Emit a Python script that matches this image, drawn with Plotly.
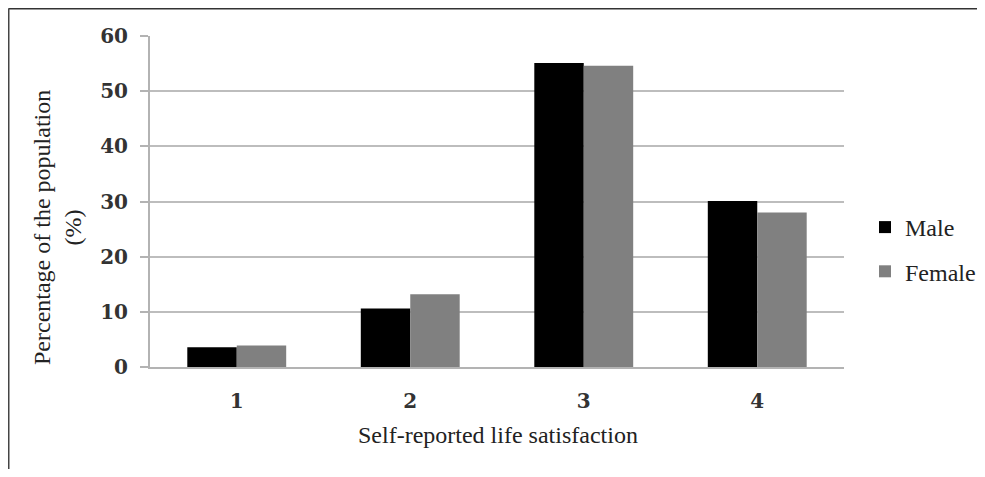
import plotly.graph_objects as go

categories = ["1", "2", "3", "4"]
male = [3.6, 10.6, 55.1, 30.1]
female = [3.9, 13.2, 54.6, 28.0]
y_ticks = [0, 10, 20, 30, 40, 50, 60]

# page body has an 8px margin; work in reference-pixel coordinates and shift
OFF = 8
W, H = 985 - OFF, 477 - 2 * OFF
L, R, T, B = 150, 844, 36, 367  # plot area in reference pixels

def px(x):
    return (x - L) / (R - L)

def py(y):
    return (B - y) / (B - T)

serif = "Liberation Serif, Times New Roman, serif"
tickfont = dict(family="DejaVu Serif", size=20, color="#333333", weight="bold")

fig = go.Figure()
fig.add_trace(go.Bar(name="Male", x=categories, y=male,
                     marker=dict(color="#000000", line=dict(width=0)), legendgroup="m"))
fig.add_trace(go.Bar(name="Female", x=categories, y=female,
                     marker=dict(color="#808080", line=dict(width=0)), legendgroup="f"))

fig.update_layout(
    width=W, height=H,
    margin=dict(l=L - OFF, r=W - (R - OFF), t=T - OFF, b=H - (B - OFF), pad=0, autoexpand=False),
    paper_bgcolor="white", plot_bgcolor="white",
    font=dict(family=serif, size=24, color="#222222"),
    barmode="group", bargap=0.43, bargroupgap=0,
    showlegend=True,
    legend=dict(x=px(865), y=py(205), xanchor="left", yanchor="top",
                font=dict(family=serif, size=24, color="#222222"),
                traceorder="grouped", tracegroupgap=10, bgcolor="rgba(0,0,0,0)"),
    xaxis=dict(showgrid=False, showline=True, linecolor="#b3b3b3", linewidth=2,
               ticks="", tickfont=tickfont, ticklabelstandoff=15, fixedrange=True),
    yaxis=dict(range=[0, 60], tickvals=y_ticks, showgrid=True, gridcolor="#bdbdbd", gridwidth=2,
               showline=True, linecolor="#b3b3b3", linewidth=2, ticks="outside", ticklen=8,
               tickcolor="#b3b3b3", tickwidth=2, tickfont=tickfont,
               ticklabelstandoff=8, zeroline=False),
    shapes=[
        dict(type="line", xref="paper", yref="paper", x0=px(8.5), x1=px(1000), y0=py(8.5), y1=py(8.5),
             line=dict(color="#333333", width=2)),
        dict(type="line", xref="paper", yref="paper", x0=px(8.5), x1=px(8.5), y0=py(8.5), y1=py(490),
             line=dict(color="#444444", width=2)),
    ],
    annotations=[
        dict(text="Self-reported life satisfaction", xref="paper", yref="paper",
             x=px(498), y=py(435), xanchor="center", yanchor="middle", showarrow=False,
             font=dict(family=serif, size=24, color="#222222")),
        dict(text="Percentage of the population<br>(%)", xref="paper", yref="paper",
             x=px(57), y=py(228), xanchor="center", yanchor="middle", showarrow=False, textangle=-90,
             font=dict(family=serif, size=24, color="#222222")),
    ],
)

fig.write_html("out.html")
